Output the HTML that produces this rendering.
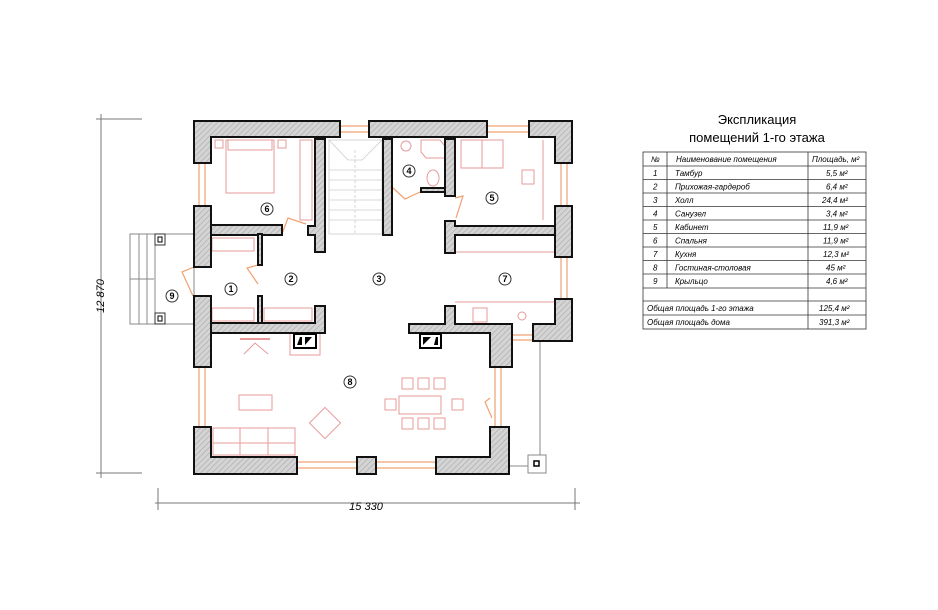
<!DOCTYPE html>
<html><head><meta charset="utf-8"><style>
html,body{margin:0;padding:0;background:#fff;width:938px;height:610px;overflow:hidden}
svg{display:block}
.w{fill:url(#h);stroke:#111;stroke-width:2}
.f{fill:none;stroke:#e79a9a;stroke-width:1}
.o{fill:none;stroke:#f0a070;stroke-width:1.2}
.g{fill:none;stroke:#888;stroke-width:1}
.n{fill:#fff;stroke:#333;stroke-width:1}
.nt{font:bold 9px "Liberation Sans",sans-serif;text-anchor:middle}
.t{font:italic 8px "Liberation Sans","DejaVu Sans",sans-serif}
</style></head><body>
<svg width="938" height="610" viewBox="0 0 938 610" xmlns="http://www.w3.org/2000/svg">
<defs><pattern id="h" width="4" height="4" patternUnits="userSpaceOnUse" patternTransform="rotate(45)"><rect width="4" height="4" fill="#d4d4d4"/><line x1="0" y1="0" x2="0" y2="4" stroke="#a8a8a8" stroke-width="1.2"/></pattern></defs>
<!-- dimension lines -->
<line x1="101" y1="114" x2="101" y2="478" stroke="#777"/>
<line x1="96" y1="119" x2="142" y2="119" stroke="#777"/>
<line x1="96" y1="473" x2="142" y2="473" stroke="#777"/>
<text transform="translate(104,296) rotate(-90)" style="font:italic 11px 'Liberation Sans',sans-serif" text-anchor="middle">12 870</text>
<line x1="155" y1="503" x2="580" y2="503" stroke="#777"/>
<line x1="158" y1="488" x2="158" y2="510" stroke="#777"/>
<line x1="575" y1="488" x2="575" y2="510" stroke="#777"/>
<text x="366" y="510" style="font:italic 11px 'Liberation Sans',sans-serif" text-anchor="middle">15 330</text>

<g class="o">
<line x1="340" y1="126" x2="369" y2="126"/><line x1="340" y1="132" x2="369" y2="132"/>
<line x1="487" y1="126" x2="529" y2="126"/><line x1="487" y1="132" x2="529" y2="132"/>
<line x1="199" y1="163" x2="199" y2="206"/><line x1="205" y1="163" x2="205" y2="206"/>
<line x1="199" y1="367" x2="199" y2="427"/><line x1="205" y1="367" x2="205" y2="427"/>
<line x1="561" y1="163" x2="561" y2="206"/><line x1="567" y1="163" x2="567" y2="206"/>
<line x1="561" y1="256" x2="561" y2="299"/><line x1="567" y1="256" x2="567" y2="299"/>
<line x1="495" y1="367" x2="495" y2="427"/><line x1="501" y1="367" x2="501" y2="427"/>
<line x1="297" y1="462" x2="357" y2="462"/><line x1="297" y1="468" x2="357" y2="468"/>
<line x1="376" y1="462" x2="436" y2="462"/><line x1="376" y1="468" x2="436" y2="468"/>
<line x1="511" y1="335" x2="533" y2="335"/><line x1="511" y1="340" x2="533" y2="340"/>
<path d="M194 267 L182 272 L193 296"/>
<path d="M490 398 L485 402 L492 418"/>
</g>

<g class="g">
<rect x="130" y="234" width="64" height="90"/>
<line x1="139" y1="234" x2="139" y2="324"/><line x1="147" y1="234" x2="147" y2="324"/><line x1="155" y1="234" x2="155" y2="324"/>
<line x1="130" y1="279" x2="154" y2="279"/>
<line x1="540" y1="342" x2="540" y2="456"/>
<line x1="509" y1="466" x2="528" y2="466"/>
</g>
<rect x="155" y="234" width="10" height="11" class="n" stroke-width="1.5"/><rect x="158" y="237" width="4" height="5" fill="none" stroke="#000"/>
<rect x="155" y="313" width="10" height="11" class="n" stroke-width="1.5"/><rect x="158" y="316" width="4" height="5" fill="none" stroke="#000"/>
<rect x="528" y="455" width="18" height="18" fill="#fff" stroke="#888"/><rect x="534" y="461" width="5" height="5" fill="none" stroke="#000" stroke-width="1.5"/>

<g stroke="#ccc" fill="none" stroke-width="0.8">
<rect x="329" y="140" width="53" height="94"/>
<line x1="355" y1="150" x2="355" y2="234" stroke-dasharray="3,2"/>
<path d="M329 140 L348 160 L362 160 L382 140"/>
<line x1="329" y1="170" x2="382" y2="170"/><line x1="329" y1="180" x2="382" y2="180"/><line x1="329" y1="190" x2="382" y2="190"/>
<line x1="329" y1="200" x2="382" y2="200"/><line x1="329" y1="210" x2="382" y2="210"/><line x1="329" y1="220" x2="382" y2="220"/>
</g>

<g class="f">
<rect x="226" y="140" width="48" height="53"/><rect x="228" y="140" width="44" height="10"/>
<rect x="215" y="140" width="8" height="8"/><rect x="278" y="140" width="8" height="8"/>
<rect x="300" y="140" width="12" height="80"/>
<rect x="212" y="238" width="42" height="13"/>
<rect x="212" y="308" width="42" height="13"/><rect x="264" y="308" width="48" height="13"/>
<rect x="461" y="140" width="42" height="28"/><line x1="482" y1="140" x2="482" y2="168"/>
<rect x="522" y="170" width="12" height="14"/>
<line x1="543" y1="140" x2="543" y2="220"/>
<line x1="455" y1="252" x2="555" y2="252"/>
<line x1="455" y1="302" x2="555" y2="302"/>
<circle cx="522" cy="316" r="4"/><rect x="473" y="308" width="14" height="14"/>
<circle cx="406" cy="146" r="5"/><path d="M421 140 L440 140 L445 146 L445 158 L426 158 L421 152 Z"/>
<ellipse cx="433" cy="178" rx="6" ry="8"/>
<rect x="239" y="395" width="33" height="15"/>
<rect x="213" y="428" width="82" height="27"/><line x1="213" y1="443" x2="295" y2="443"/>
<line x1="240" y1="428" x2="240" y2="455"/><line x1="268" y1="428" x2="268" y2="455"/>
<rect x="314" y="412" width="22" height="22" transform="rotate(45 325 423)"/>
<rect x="399" y="396" width="42" height="18"/>
<rect x="402" y="378" width="11" height="11"/><rect x="418" y="378" width="11" height="11"/><rect x="434" y="378" width="11" height="11"/>
<rect x="402" y="418" width="11" height="11"/><rect x="418" y="418" width="11" height="11"/><rect x="434" y="418" width="11" height="11"/>
<rect x="385" y="399" width="11" height="11"/><rect x="452" y="399" width="11" height="11"/>
<line x1="240" y1="339" x2="270" y2="339" stroke-width="2"/><path d="M244 354 L255 343 L268 354"/>
<rect x="290" y="333" width="30" height="22"/>
</g>
<g class="o" stroke-width="0.8">
<path d="M282 234 L288 218 L306 224"/><path d="M258 265 L247 268 L258 284"/>
<path d="M392 187 L405 199 L420 192"/><path d="M455 198 L463 196 L456 218"/>
</g>

<g class="w">
<path d="M194 121 H340 V137 H211 V163 H194 Z"/>
<rect x="369" y="121" width="118" height="16"/>
<path d="M529 121 H572 V163 H555 V137 H529 Z"/>
<rect x="194" y="206" width="17" height="61"/>
<rect x="194" y="296" width="17" height="71"/>
<path d="M194 427 H211 V457 H297 V474 H194 Z"/>
<rect x="357" y="457" width="19" height="17"/>
<path d="M436 457 H490 V427 H509 V474 H436 Z"/>
<rect x="555" y="206" width="17" height="51"/>
<path d="M555 299 H572 V341 H533 V324 H555 Z"/>
<path d="M409 324 H445 V306 H455 V324 H512 V367 H490 V333 H409 Z"/>
<rect x="211" y="225" width="71" height="10"/>
<path d="M315 139 H325 V252 H315 V235 H308 V226 H315 Z"/>
<rect x="383" y="139" width="9" height="96"/>
<rect x="445" y="139" width="10" height="57"/>
<rect x="421" y="188" width="24" height="4"/>
<path d="M445 221 H455 V226 H555 V235 H455 V253 H445 Z"/>
<rect x="258" y="234" width="4" height="31"/>
<rect x="258" y="296" width="4" height="27"/>
<path d="M211 323 H315 V306 H325 V333 H211 Z"/>
</g>
<rect x="294" y="334" width="22" height="14" fill="#fff" stroke="#000" stroke-width="2"/>
<path d="M297 345 L300 337 L302 337 L302 345 Z M305 345 L305 337 L312 337 Z" fill="#000"/>
<rect x="420" y="334" width="21" height="14" fill="#fff" stroke="#000" stroke-width="2"/>
<path d="M423 345 L423 337 L431 337 Z M434 345 L436 337 L438 337 L438 345 Z" fill="#000"/>

<g>
<circle cx="231" cy="289" r="6" class="n"/><text x="231" y="292" class="nt">1</text>
<circle cx="291" cy="279" r="6" class="n"/><text x="291" y="282" class="nt">2</text>
<circle cx="379" cy="279" r="6" class="n"/><text x="379" y="282" class="nt">3</text>
<circle cx="409" cy="171" r="6" class="n"/><text x="409" y="174" class="nt">4</text>
<circle cx="492" cy="198" r="6" class="n"/><text x="492" y="201" class="nt">5</text>
<circle cx="267" cy="209" r="6" class="n"/><text x="267" y="212" class="nt">6</text>
<circle cx="505" cy="279" r="6" class="n"/><text x="505" y="282" class="nt">7</text>
<circle cx="350" cy="382" r="6" class="n"/><text x="350" y="385" class="nt">8</text>
<circle cx="172" cy="296" r="6" class="n"/><text x="172" y="299" class="nt">9</text>
</g>

<text x="757" y="124" text-anchor="middle" style="font:13px 'Liberation Sans','DejaVu Sans',sans-serif">Экспликация</text>
<text x="757" y="142" text-anchor="middle" style="font:13px 'Liberation Sans','DejaVu Sans',sans-serif">помещений 1-го этажа</text>
<g stroke="#333" stroke-width="0.8" fill="none">
<rect x="643" y="152" width="223" height="177"/>
<line x1="667" y1="152" x2="667" y2="288"/>
<line x1="808" y1="152" x2="808" y2="329"/>
<line x1="643" y1="166" x2="866" y2="166"/><line x1="643" y1="179.5" x2="866" y2="179.5"/>
<line x1="643" y1="193" x2="866" y2="193"/><line x1="643" y1="206.5" x2="866" y2="206.5"/>
<line x1="643" y1="220" x2="866" y2="220"/><line x1="643" y1="233.5" x2="866" y2="233.5"/>
<line x1="643" y1="247" x2="866" y2="247"/><line x1="643" y1="260.5" x2="866" y2="260.5"/>
<line x1="643" y1="274" x2="866" y2="274"/><line x1="643" y1="288" x2="866" y2="288"/>
<line x1="643" y1="301" x2="866" y2="301"/><line x1="643" y1="315" x2="866" y2="315"/>
</g>
<g class="t">
<text x="651" y="162">№</text><text x="676" y="162">Наименование помещения</text><text x="812" y="162">Площадь, м²</text>
<text x="653" y="176">1</text><text x="675" y="176">Тамбур</text><text x="826" y="176">5,5 м²</text>
<text x="653" y="189.5">2</text><text x="675" y="189.5">Прихожая-гардероб</text><text x="826" y="189.5">6,4 м²</text>
<text x="653" y="203">3</text><text x="675" y="203">Холл</text><text x="822" y="203">24,4 м²</text>
<text x="653" y="216.5">4</text><text x="675" y="216.5">Санузел</text><text x="826" y="216.5">3,4 м²</text>
<text x="653" y="230">5</text><text x="675" y="230">Кабинет</text><text x="823" y="230">11,9 м²</text>
<text x="653" y="243.5">6</text><text x="675" y="243.5">Спальня</text><text x="823" y="243.5">11,9 м²</text>
<text x="653" y="257">7</text><text x="675" y="257">Кухня</text><text x="823" y="257">12,3 м²</text>
<text x="653" y="270.5">8</text><text x="675" y="270.5">Гостиная-столовая</text><text x="826" y="270.5">45 м²</text>
<text x="653" y="284">9</text><text x="675" y="284">Крыльцо</text><text x="826" y="284">4,6 м²</text>
<text x="647" y="311">Общая площадь 1-го этажа</text><text x="819" y="311">125,4 м²</text>
<text x="647" y="325">Общая площадь дома</text><text x="819" y="325">391,3 м²</text>
</g>
</svg>
</body></html>
